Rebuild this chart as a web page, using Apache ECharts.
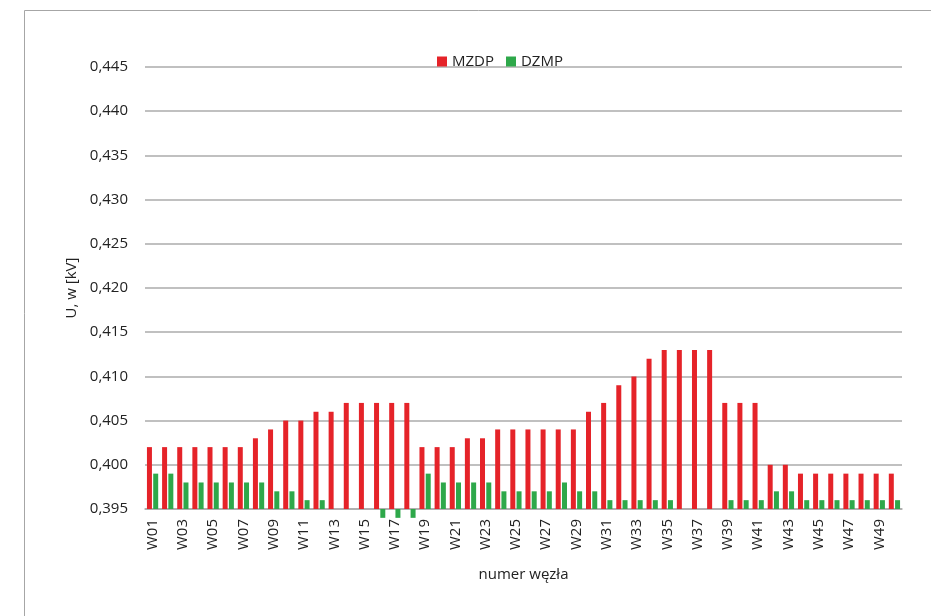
<!DOCTYPE html>
<html>
<head>
<meta charset="utf-8">
<script src="https://cdn.jsdelivr.net/npm/echarts@6/dist/echarts.min.js"></script>
<style>
  html, body { margin: 0; padding: 0; background: #fff; }
  #chart { width: 931px; height: 616px; }
</style>
</head>
<body>
<div id="chart"></div>
<script>
const categories = [];
for (let i = 1; i <= 50; i++) categories.push('W' + (i < 10 ? '0' + i : '' + i));

const seriesNames = ['MZDP', 'DZMP'];

const mzdp = [0.402, 0.402, 0.402, 0.402, 0.402, 0.402, 0.402, 0.403, 0.404, 0.405,
              0.405, 0.406, 0.406, 0.407, 0.407, 0.407, 0.407, 0.407, 0.402, 0.402,
              0.402, 0.403, 0.403, 0.404, 0.404, 0.404, 0.404, 0.404, 0.404, 0.406,
              0.407, 0.409, 0.410, 0.412, 0.413, 0.413, 0.413, 0.413, 0.407, 0.407,
              0.407, 0.400, 0.400, 0.399, 0.399, 0.399, 0.399, 0.399, 0.399, 0.399];

const dzmp = [0.399, 0.399, 0.398, 0.398, 0.398, 0.398, 0.398, 0.398, 0.397, 0.397,
              0.396, 0.396, 0.395, 0.395, 0.395, 0.394, 0.394, 0.394, 0.399, 0.398,
              0.398, 0.398, 0.398, 0.397, 0.397, 0.397, 0.397, 0.398, 0.397, 0.397,
              0.396, 0.396, 0.396, 0.396, 0.396, 0.395, 0.395, 0.395, 0.396, 0.396,
              0.396, 0.397, 0.397, 0.396, 0.396, 0.396, 0.396, 0.396, 0.396, 0.396];

const yMin = 0.395, yMax = 0.445, yStep = 0.005;

const font = '"Open Sans", "Noto Sans", sans-serif';
const chart = echarts.init(document.getElementById('chart'), null, { renderer: 'canvas' });

chart.setOption({
  animation: false,
  backgroundColor: '#ffffff',
  graphic: [{
    type: 'rect',
    shape: { x: 24.5, y: 10.5, width: 1200, height: 1200 },
    style: { fill: 'none', stroke: '#a6a6a6', lineWidth: 1 },
    silent: true
  }],
  legend: {
    top: 49,
    left: 432,
    itemWidth: 10,
    itemHeight: 10,
    itemGap: 12,
    icon: 'rect',
    textStyle: { fontFamily: font, fontSize: 15, color: '#222' },
    data: seriesNames
  },
  grid: { left: 145, right: 29, top: 67, bottom: 107, containLabel: false },
  xAxis: {
    type: 'category',
    data: categories,
    name: 'numer węzła',
    nameLocation: 'middle',
    nameGap: 58,
    nameTextStyle: { fontFamily: font, fontSize: 15, color: '#222' },
    axisLine: { show: true, lineStyle: { color: '#ababab', width: 1.5 } },
    axisTick: { show: false },
    axisLabel: {
      interval: 1,
      rotate: 90,
      margin: 10,
      fontFamily: font, fontSize: 15, color: '#222'
    }
  },
  yAxis: {
    type: 'value',
    min: yMin,
    max: yMax,
    interval: yStep,
    startValue: yMin,
    name: 'U, w [kV]',
    nameLocation: 'middle',
    nameGap: 64,
    nameTextStyle: { fontFamily: font, fontSize: 15, color: '#222' },
    axisLine: { show: false },
    axisTick: { show: false },
    splitLine: { show: true, lineStyle: { color: '#ababab', width: 1.5 } },
    axisLabel: {
      margin: 17,
      fontFamily: font, fontSize: 15, color: '#222',
      formatter: v => v.toFixed(3).replace('.', ',')
    }
  },
  series: [
    {
      name: seriesNames[0], type: 'bar', data: mzdp,
      barWidth: 5, barGap: '25%',
      clip: false,
      itemStyle: { color: '#e52329' }
    },
    {
      name: seriesNames[1], type: 'bar', data: dzmp,
      barWidth: 5, barGap: '25%',
      clip: false,
      itemStyle: { color: '#2ea84a' }
    }
  ]
});
</script>
</body>
</html>
